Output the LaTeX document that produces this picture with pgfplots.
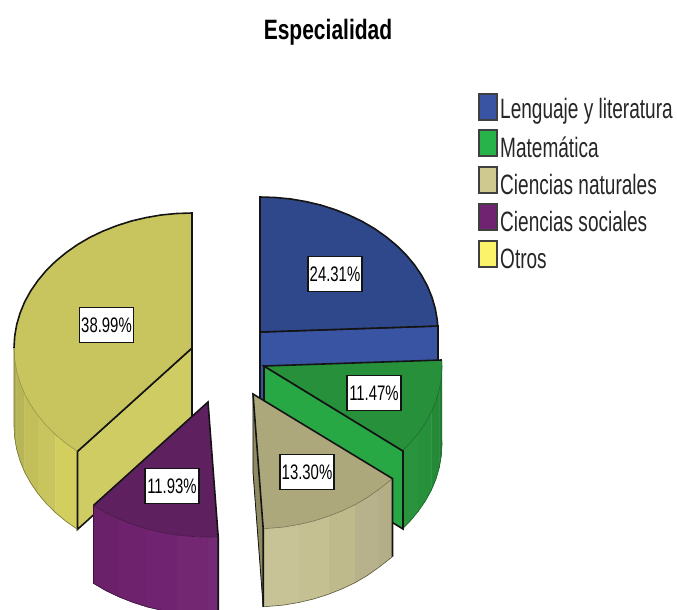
\documentclass[border=0pt]{standalone}
\usepackage{pgfplots}
\pgfplotsset{compat=1.18}
\usepackage{fontspec}
\usepackage{graphicx}
\setmainfont{Liberation Sans}
\definecolor{bT}{HTML}{2F478B}\definecolor{bF}{HTML}{3A54A4}
\definecolor{gT}{HTML}{26913A}\definecolor{gF}{HTML}{28A745}
\definecolor{tT}{HTML}{ADA77C}\definecolor{tS}{HTML}{8F8A60}
\definecolor{pT}{HTML}{5F2060}\definecolor{pS}{HTML}{702370}
\definecolor{yT}{HTML}{C8C55E}\definecolor{yF}{HTML}{CFCC64}
\definecolor{ln}{HTML}{141414}
\definecolor{legG}{HTML}{28B34A}\definecolor{legT}{HTML}{CFC88F}\definecolor{legY}{HTML}{FBF36A}
\pgfplotsset{
 face/.style={forget plot,fill=#1,draw=ln,line width=1.6pt,line join=miter},
 strip/.style={forget plot,fill=#1,draw=#1,line width=0.3pt},
 rim/.style={forget plot,draw=#1,line width=0.6pt,no marks,fill=none}
}
\newcommand{\lab}[3]{\node[draw=ln,line width=1.1pt,fill=white,inner sep=0pt,minimum width=54pt,minimum height=35pt] at (axis cs:#1,#2) {\scalebox{0.71}[1]{\fontsize{21}{21}\selectfont #3}};}
\newcommand{\leg}[3]{\addplot[forget plot,fill=#2,draw=black!75,line width=1.6pt] coordinates {(479,#1)(497,#1)(497,#1+26)(479,#1+26)} -- cycle;
 \node[anchor=west,inner sep=0pt,text=black!85] at (axis cs:500,#1+17.5) {\scalebox{0.68}[1]{\fontsize{28}{28}\selectfont #3}};}
\begin{document}
\begin{tikzpicture}
\begin{axis}[hide axis,scale only axis,width=677pt,height=610pt,xmin=0,xmax=677,ymin=0,ymax=610,y dir=reverse,clip=true]
% Blue: Lenguaje y literatura
\addplot[face=bF] coordinates {(260,332)(438,326)(438,404)(260,410)} -- cycle;
\addplot[face=bT] coordinates {(260,332)(260,197)(275.5,197.5)(290.9,199)(306.1,201.6)(320.9,205.1)(335.3,209.7)(349,215.1)(362.2,221.4)(374.5,228.6)(385.9,236.6)(396.3,245.2)(405.8,254.5)(414.2,264.5)(421.3,274.9)(427.3,285.8)(431.9,297)(435.3,308.6)(437.3,320.3)(437.8,326)} -- cycle;
% Green: Matematica
\addplot[strip=gT!98!white] coordinates {(402.7,450.6)(409.8,443.5)(418.1,433.5)(418.1,511.5)(409.8,521.5)(402.7,528.6)} -- cycle;
\addplot[strip=gT] coordinates {(418.1,433.5)(425.3,423.1)(431.3,412.2)(431.3,490.2)(425.3,501.1)(418.1,511.5)} -- cycle;
\addplot[strip=gT!95!black] coordinates {(431.3,412.2)(436,401)(439.3,389.5)(439.3,467.5)(436,479)(431.3,490.2)} -- cycle;
\addplot[strip=gT!87!black] coordinates {(439.3,389.5)(441.3,377.7)(442,366)(441.8,360)(441.8,438)(442,444)(441.3,455.7)(439.3,467.5)} -- cycle;
\addplot[face=gF] coordinates {(264,366)(403,451)(403,529)(264,444)} -- cycle;
\addplot[forget plot,fill=gT,draw=none] coordinates {(264,366)(441.8,360)(442,366)(441.3,377.7)(439.3,389.5)(436,401)(431.3,412.2)(425.3,423.1)(418.1,433.5)(409.8,443.5)(402.7,450.6)} -- cycle;
\addplot[rim=gT!75!black] coordinates {(402.7,450.6)(409.8,443.5)(418.1,433.5)(425.3,423.1)(431.3,412.2)(436,401)(439.3,389.5)(441.3,377.7)(442,366)};
\addplot[rim=gT!70!black] coordinates {(402.7,528.6)(409.8,521.5)(418.1,511.5)(425.3,501.1)(431.3,490.2)(436,479)(439.3,467.5)(441.3,455.7)(442,444)(441.8,438)(441.8,360)};
\addplot[forget plot,draw=ln,line width=1.6pt,no marks] coordinates {(441.8,360)(264,366)(403,451)(403,529)};
% Yellow: Otros
\addplot[strip=yT!88!black] coordinates {(14,348)(14.7,359.8)(16.7,371.4)(16.7,449.4)(14.7,437.8)(14,426)} -- cycle;
\addplot[strip=yT!92!black] coordinates {(16.7,371.4)(20.1,383)(24.7,394.2)(24.7,472.2)(20.1,461)(16.7,449.4)} -- cycle;
\addplot[strip=yT!97!black] coordinates {(24.7,394.2)(30.7,405)(37.9,415.5)(37.9,493.5)(30.7,483)(24.7,472.2)} -- cycle;
\addplot[strip=yT] coordinates {(37.9,415.5)(46.2,425.5)(55.7,434.8)(55.7,512.8)(46.2,503.5)(37.9,493.5)} -- cycle;
\addplot[strip=yF!94!yellow] coordinates {(55.7,434.8)(66.1,443.4)(77.5,451.4)(77.5,529.4)(66.1,521.4)(55.7,512.8)} -- cycle;
\addplot[face=yF] coordinates {(192,348)(77.5,451.4)(77.5,529.4)(192,426)} -- cycle;
\addplot[forget plot,fill=yT,draw=none] coordinates {(192,348)(192,213)(176.5,213.5)(161,215)(146,217.6)(131.1,221.1)(116.7,225.7)(103,231.1)(89.8,237.4)(77.5,244.6)(66.1,252.6)(55.7,261.2)(46.2,270.5)(37.9,280.5)(30.7,290.9)(24.7,301.8)(20.1,313)(16.7,324.5)(14.7,336.2)(14,348)(14.7,359.8)(16.7,371.4)(20.1,383)(24.7,394.2)(30.7,405)(37.9,415.5)(46.2,425.5)(55.7,434.8)(66.1,443.4)(77.5,451.4)} -- cycle;
\addplot[rim=yT!75!black] coordinates {(14,348)(14.7,359.8)(16.7,371.4)(20.1,383)(24.7,394.2)(30.7,405)(37.9,415.5)(46.2,425.5)(55.7,434.8)(66.1,443.4)(77.5,451.4)};
\addplot[rim=yT!60!black] coordinates {(14,348)(14,426)(14.7,437.8)(16.7,449.4)(20.1,461)(24.7,472.2)(30.7,483)(37.9,493.5)(46.2,503.5)(55.7,512.8)(66.1,521.4)(77.5,529.4)};
\addplot[forget plot,draw=ln,line width=1.6pt,no marks] coordinates {(14,348)(14.7,336.2)(16.7,324.5)(20.1,313)(24.7,301.8)(30.7,290.9)(37.9,280.5)(46.2,270.5)(55.7,261.2)(66.1,252.6)(77.5,244.6)(89.8,237.4)(103,231.1)(116.7,225.7)(131.1,221.1)(146,217.6)(161,215)(176.5,213.5)(192,213)(192,348)(77.5,451.4)};
% Purple: Ciencias sociales
\addplot[strip=pS!95!black] coordinates {(93.5,505.4)(105.8,512.6)(119,518.9)(119,596.9)(105.8,590.6)(93.5,583.4)} -- cycle;
\addplot[strip=pS!98!black] coordinates {(119,518.9)(132.7,524.3)(147.1,528.9)(147.1,606.9)(132.7,602.3)(119,596.9)} -- cycle;
\addplot[strip=pS] coordinates {(147.1,528.9)(161.9,532.4)(177,535)(177,613)(161.9,610.4)(147.1,606.9)} -- cycle;
\addplot[strip=pS!98!white] coordinates {(177,535)(192.5,536.5)(208,537)(208,615)(192.5,614.5)(177,613)} -- cycle;
\addplot[strip=pS!97!white] coordinates {(208,537)(218.2,536.8)(218.2,614.8)(208,615)} -- cycle;
\addplot[forget plot,fill=pT,draw=none] coordinates {(208,402)(218.2,536.8)(208,537)(192.5,536.5)(177,535)(161.9,532.4)(147.1,528.9)(132.7,524.3)(119,518.9)(105.8,512.6)(93.5,505.4)} -- cycle;
\addplot[rim=pT!75!black] coordinates {(93.5,505.4)(105.8,512.6)(119,518.9)(132.7,524.3)(147.1,528.9)(161.9,532.4)(177,535)(192.5,536.5)(208,537)(218.2,536.8)};
\addplot[rim=pT!60!black] coordinates {(93.5,505.4)(93.5,583.4)(105.8,590.6)(119,596.9)(132.7,602.3)(147.1,606.9)(161.9,610.4)(177,613)};
\addplot[forget plot,draw=ln,line width=1.6pt,no marks] coordinates {(93.5,505.4)(208,402)(218.2,536.8)(218.2,614.8)};
% Tan: Ciencias naturales
\addplot[strip=tS] coordinates {(253,394)(263.2,528.8)(263.2,606.8)(253,472)} -- cycle;
\addplot[strip=tT!72!white!94!yellow] coordinates {(263.2,528.8)(284,527)(299.1,524.4)(299.1,602.4)(284,605)(263.2,606.8)} -- cycle;
\addplot[strip=tT!76!white!94!yellow] coordinates {(299.1,524.4)(313.9,520.9)(328.3,516.3)(328.3,594.3)(313.9,598.9)(299.1,602.4)} -- cycle;
\addplot[strip=tT!82!white!95!yellow] coordinates {(328.3,516.3)(342,510.9)(355.2,504.6)(355.2,582.6)(342,588.9)(328.3,594.3)} -- cycle;
\addplot[strip=tT!88!white] coordinates {(355.2,504.6)(367.5,497.4)(378.8,489.4)(378.8,567.4)(367.5,575.4)(355.2,582.6)} -- cycle;
\addplot[strip=tT!92!white] coordinates {(378.8,489.4)(392.5,478.6)(392.5,556.6)(378.8,567.4)} -- cycle;
\addplot[forget plot,fill=tT,draw=none] coordinates {(253,394)(392.5,478.6)(378.8,489.4)(367.5,497.4)(355.2,504.6)(342,510.9)(328.3,516.3)(313.9,520.9)(299.1,524.4)(284,527)(263.2,528.8)} -- cycle;
\addplot[rim=tT!70!black] coordinates {(263.2,528.8)(284,527)(299.1,524.4)(313.9,520.9)(328.3,516.3)(342,510.9)(355.2,504.6)(367.5,497.4)(378.8,489.4)(392.5,478.6)};
\addplot[rim=tT!55!black] coordinates {(263.2,606.8)(284,605)(299.1,602.4)(313.9,598.9)(328.3,594.3)(342,588.9)(355.2,582.6)(367.5,575.4)(378.8,567.4)(392.5,556.6)};
\addplot[forget plot,draw=ln,line width=1.6pt,no marks] coordinates {(263.2,606.8)(263.2,528.8)(253,394)(392.5,478.6)(392.5,556.6)};
\addplot[forget plot,draw=ln,line width=0.8pt,no marks] coordinates {(253,394)(253,472)(263.2,606.8)};
% Labels
\lab{335}{274}{24.31\%}
\lab{106.5}{325}{38.99\%}
\lab{172}{486}{11.93\%}
\lab{374}{393}{11.47\%}
\lab{307}{472}{13.30\%}
% Legend
\leg{94}{bF}{Lenguaje y literatura}
\leg{130}{legG}{Matemática}
\leg{167}{legT}{Ciencias naturales}
\leg{204}{pS}{Ciencias sociales}
\leg{241}{legY}{Otros}
% Title
\node[text=black] at (axis cs:328,32) {\scalebox{0.75}[1]{\fontsize{28}{28}\selectfont\bfseries Especialidad}};
\end{axis}
\path (0,0) rectangle (677pt,610pt);
\end{tikzpicture}
\end{document}
